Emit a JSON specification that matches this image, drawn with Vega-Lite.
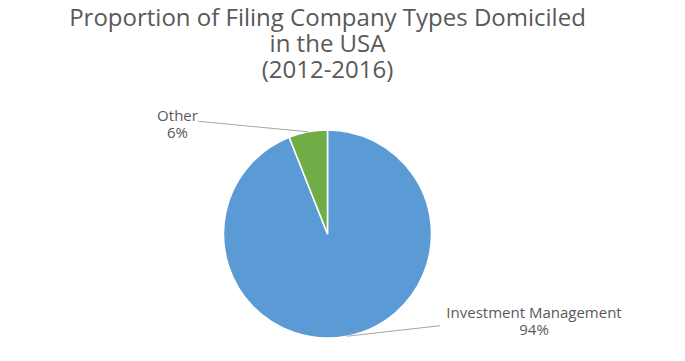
{
  "$schema": "https://vega.github.io/schema/vega-lite/v6.json",
  "autosize": {"type": "fit", "contains": "padding"},
  "width": 685,
  "height": 361,
  "padding": {"left": 0, "right": 30, "top": 7, "bottom": 0},
  "background": "white",
  "config": {"view": {"stroke": null}},
  "title": {
    "text": ["Proportion of Filing Company Types Domiciled", "in the USA", "(2012-2016)"],
    "font": "Open Sans",
    "fontSize": 24,
    "fontWeight": "normal",
    "lineHeight": 26,
    "color": "#595959",
    "anchor": "middle",
    "offset": 24
  },
  "data": {
    "values": [
      {"category": "Investment Management", "value": 94, "label": "Investment Management\n94%"},
      {"category": "Other", "value": 6, "label": "Other\n6%"}
    ]
  },
  "layer": [
    {
      "mark": {"type": "arc", "outerRadius": 104, "stroke": "white", "strokeWidth": 1.5},
      "encoding": {
        "theta": {"field": "value", "type": "quantitative", "stack": true},
        "color": {
          "field": "category",
          "type": "nominal",
          "scale": {"domain": ["Investment Management", "Other"], "range": ["#5B9BD5", "#70AD47"]},
          "legend": null
        }
      }
    },
    {
      "mark": {"type": "point", "filled": false, "opacity": 1, "stroke": "#a6a6a6", "strokeWidth": 1, "size": 43264},
      "encoding": {
        "shape": {
          "field": "category",
          "type": "nominal",
          "scale": {
            "domain": ["Investment Management", "Other"],
            "range": ["M0.1875,0.9827L1.082,0.882", "M-0.1875,-0.9827L-1.245,-1.084"]
          },
          "legend": null
        }
      }
    },
    {
      "mark": {"type": "text", "radius": 186, "thetaOffset": -0.7496, "dy": -8, "align": "center", "baseline": "middle", "lineBreak": "\n", "lineHeight": 16.5, "font": "Open Sans", "fontSize": 15, "color": "#595959"},
      "encoding": {
        "theta": {"field": "value", "type": "quantitative", "stack": true},
        "text": {"condition": {"test": "datum.category === 'Other'", "field": "label"}, "value": ""}
      }
    },
    {
      "mark": {"type": "text", "radius": 224.3, "thetaOffset": -0.9816, "dy": -8, "align": "center", "baseline": "middle", "lineBreak": "\n", "lineHeight": 16.5, "font": "Open Sans", "fontSize": 15, "color": "#595959"},
      "encoding": {
        "theta": {"field": "value", "type": "quantitative", "stack": true},
        "text": {"condition": {"test": "datum.category === 'Investment Management'", "field": "label"}, "value": ""}
      }
    }
  ]
}
